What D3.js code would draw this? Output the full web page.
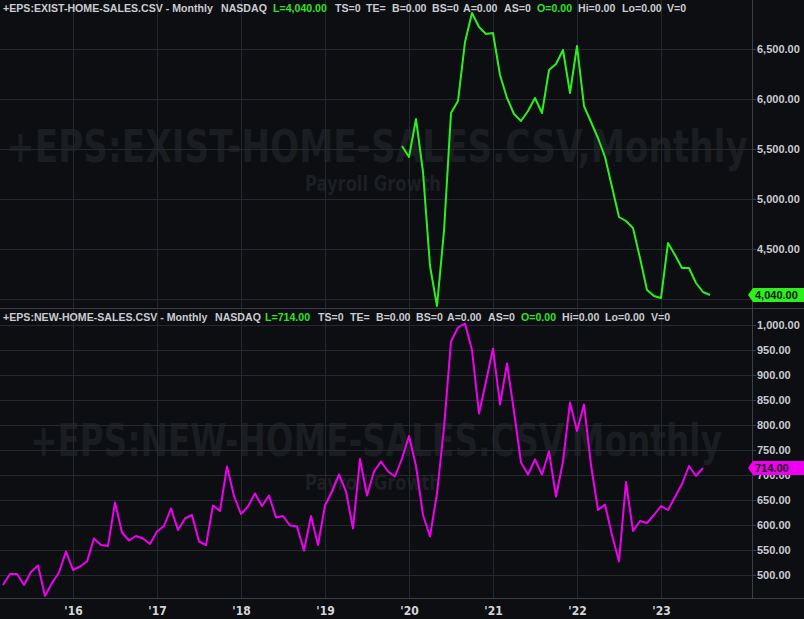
<!DOCTYPE html>
<html><head><meta charset="utf-8">
<script src="https://cdn.jsdelivr.net/npm/d3@7"></script>
<style>
html,body{margin:0;padding:0;background:#0d0e11;overflow:hidden}
svg{display:block}
</style></head>
<body>
<svg id="chart" width="804" height="619"></svg>
<script>
// ---- DATA ----
// month index counted from Jan 2015 (0)
const existStartMonth = 59;   // Dec 2019
const existHomeSales = [5530,5420,5800,5270,4330,3930,4680,5860,5980,6570,6860,6720,6650,6660,6240,6010,5850,5780,5880,6010,5860,6290,6350,6490,6060,6530,5930,5770,5610,5420,5120,4820,4780,4710,4410,4090,4030,4010,4560,4440,4310,4310,4160,4070,4040];
const newStartMonth = 2;      // Mar 2015
const newHomeSales = [480,502,502,480,506,519,458,484,505,547,510,517,527,573,560,558,645,585,569,578,573,562,587,598,633,590,613,620,567,560,639,628,717,658,622,637,663,638,659,615,618,599,597,549,618,560,639,667,701,667,593,732,659,707,727,707,697,733,778,718,620,577,663,795,967,995,1003,950,823,887,953,841,923,827,725,701,731,701,747,657,727,845,788,841,720,630,641,580,527,686,588,608,604,620,638,630,656,682,718,698,714];
const yearTickMonths = [12,24,36,48,60,72,84,96];
const yearTickLabels = ["'16","'17","'18","'19","'20","'21","'22","'23"];
const existTicks = [4000,4500,5000,5500,6000,6500];
const existLabelledTicks = [4500,5000,5500,6000,6500];   // 4,000 sits under the last-value box
const newTicks = [500,550,600,650,700,750,800,850,900,950,1000];
const existHeader = [["+EPS:EXIST-HOME-SALES.CSV - Monthly",3,0],["NASDAQ",221,0],["L=4,040.00",273,1],["TS=0",335,0],["TE=",366,0],["B=0.00",392,0],["BS=0",432,0],["A=0.00",463,0],["AS=0",504,0],["O=0.00",537,1],["Hi=0.00",578,0],["Lo=0.00",622,0],["V=0",667,0]];
const newHeader = [["+EPS:NEW-HOME-SALES.CSV - Monthly",3,0],["NASDAQ",215,0],["L=714.00",265,1],["TS=0",318,0],["TE=",350,0],["B=0.00",376,0],["BS=0",416,0],["A=0.00",447,0],["AS=0",488,0],["O=0.00",521,1],["Hi=0.00",562,0],["Lo=0.00",605,0],["V=0",651,0]];

// ---- LAYOUT ----
const W = 804, H = 619, plotR = 752;
const pTop = {y0:0, y1:308}, pBot = {y0:310, y1:598};
const BG = "#0d0e11", GRID = "#25282e", AXIS = "#3b3e45", TXT = "#c9ccd3";
const GREEN = "#2bf01c", MAG = "#f000f0", HDRGREEN = "#33e02a";

const svg = d3.select("#chart");
svg.append("rect").attr("width",W).attr("height",H).attr("fill",BG);

const x = d3.scaleLinear().domain([12,60]).range([73,409]);
const yTop = d3.scaleLinear().domain([4000,6500]).range([299,49]);
const yBot = d3.scaleLinear().domain([500,1000]).range([575,325]);

const defs = svg.append("defs");
defs.append("clipPath").attr("id","clipTop").append("rect").attr("x",0).attr("y",pTop.y0).attr("width",plotR).attr("height",pTop.y1-pTop.y0);
defs.append("clipPath").attr("id","clipBot").append("rect").attr("x",0).attr("y",pBot.y0).attr("width",plotR).attr("height",pBot.y1-pBot.y0);

// watermarks (background layer), squeezed horizontally to the reference width
const wmFont = "'Liberation Sans Narrow','DejaVu Sans Condensed',sans-serif";
function fitText(g, str, bx, by, bw, size, color){
  const t = g.append("text").attr("x",0).attr("y",0).attr("font-family",wmFont).attr("font-weight",700)
    .attr("font-size",size).attr("fill",color).text(str);
  const nat = t.node().getComputedTextLength();
  t.attr("transform",`translate(${bx},${by}) scale(${bw/nat},1)`);
}
function watermark(big, bx, bw, by, sy){
  const g = svg.append("g");
  fitText(g, big, bx, by, bw, 44, "#1a1d22");
  fitText(g, "Payroll Growth", 305, sy, 136, 21, "#1c1f24");
}
watermark("+EPS:EXIST-HOME-SALES.CSV,Monthly", 6, 742, 162, 191);
watermark("+EPS:NEW-HOME-SALES.CSV,Monthly", 30, 692, 456, 490);

const gTop = svg.append("g").attr("clip-path","url(#clipTop)");
const gBot = svg.append("g").attr("clip-path","url(#clipBot)");

// grids
function grid(g, y, ticks, p){
  g.selectAll(".hg").data(ticks).join("line").attr("x1",0).attr("x2",plotR)
    .attr("y1",d=>Math.round(y(d))+0.5).attr("y2",d=>Math.round(y(d))+0.5).attr("stroke",GRID);
  g.selectAll(".vg").data(yearTickMonths).join("line")
    .attr("x1",d=>Math.round(x(d))+0.5).attr("x2",d=>Math.round(x(d))+0.5)
    .attr("y1",p.y0).attr("y2",p.y1).attr("stroke",GRID);
}
grid(gTop.append("g"), yTop, existTicks, pTop);
grid(gBot.append("g"), yBot, newTicks, pBot);

// lines
const lineTop = d3.line().x((d,i)=>x(existStartMonth+i)).y(d=>yTop(d));
const lineBot = d3.line().x((d,i)=>x(newStartMonth+i)).y(d=>yBot(d));
gTop.append("path").datum(existHomeSales).attr("d",lineTop).attr("fill","none").attr("stroke",GREEN).attr("stroke-width",2).attr("stroke-linejoin","round");
gBot.append("path").datum(newHomeSales).attr("d",lineBot).attr("fill","none").attr("stroke",MAG).attr("stroke-width",2).attr("stroke-linejoin","round");

// separators
svg.append("line").attr("x1",0).attr("x2",W).attr("y1",308.5).attr("y2",308.5).attr("stroke",AXIS);
svg.append("line").attr("x1",0).attr("x2",W).attr("y1",598.5).attr("y2",598.5).attr("stroke",AXIS);
svg.append("line").attr("x1",plotR+0.5).attr("x2",plotR+0.5).attr("y1",0).attr("y2",599).attr("stroke",AXIS);

// right axes
const fmt = d3.format(",.2f");
function rightAxis(y, ticks){
  const g = svg.append("g").attr("transform",`translate(${plotR},0)`)
    .call(d3.axisRight(y).tickValues(ticks).tickFormat(fmt).tickSize(4).tickPadding(1));
  g.select(".domain").remove();
  g.selectAll(".tick line").attr("stroke",AXIS);
  g.selectAll(".tick text").attr("fill",TXT).attr("font-family","'Liberation Sans',Arial,sans-serif")
    .attr("font-weight",700).attr("font-size",11);
  return g;
}
rightAxis(yTop, existLabelledTicks);
svg.append("line").attr("x1",plotR).attr("x2",plotR+4).attr("y1",yTop(4000)+0.5).attr("y2",yTop(4000)+0.5).attr("stroke",AXIS);
rightAxis(yBot, newTicks);

// bottom axis
const xa = svg.append("g").attr("transform",`translate(0,599)`)
  .call(d3.axisBottom(x).tickValues(yearTickMonths).tickFormat((d,i)=>yearTickLabels[i]).tickSize(0).tickPadding(7));
xa.select(".domain").remove();
xa.selectAll(".tick text").attr("fill","#d4d6db").attr("font-family","'Liberation Sans Narrow','DejaVu Sans Condensed',sans-serif")
  .attr("font-weight",700).attr("font-size",12);

// last value labels
function lastLabel(yv, text, color){
  const cy = Math.round(yv);
  svg.append("path").attr("d",`M${plotR-4},${cy} L${plotR+1},${cy-7} L${W},${cy-7} L${W},${cy+7} L${plotR+1},${cy+7} Z`).attr("fill",color);
  svg.append("text").attr("x",plotR+3).attr("y",cy+4).attr("fill","#111").attr("font-family","'Liberation Sans',Arial,sans-serif")
    .attr("font-weight",700).attr("font-size",11).text(text);
}
lastLabel(yTop(existHomeSales[existHomeSales.length-1]), fmt(existHomeSales[existHomeSales.length-1]), GREEN);
lastLabel(yBot(newHomeSales[newHomeSales.length-1]), fmt(newHomeSales[newHomeSales.length-1]), MAG);

// headers
function header(items, by){
  svg.append("g").selectAll("text").data(items).join("text")
    .attr("x",d=>d[1]).attr("y",by).attr("fill",d=>d[2]?HDRGREEN:TXT)
    .attr("font-family","'Liberation Sans',Arial,sans-serif").attr("font-weight",700).attr("font-size",10.6)
    .text(d=>d[0]);
}
header(existHeader, 12);
header(newHeader, 321);
</script>
</body></html>
